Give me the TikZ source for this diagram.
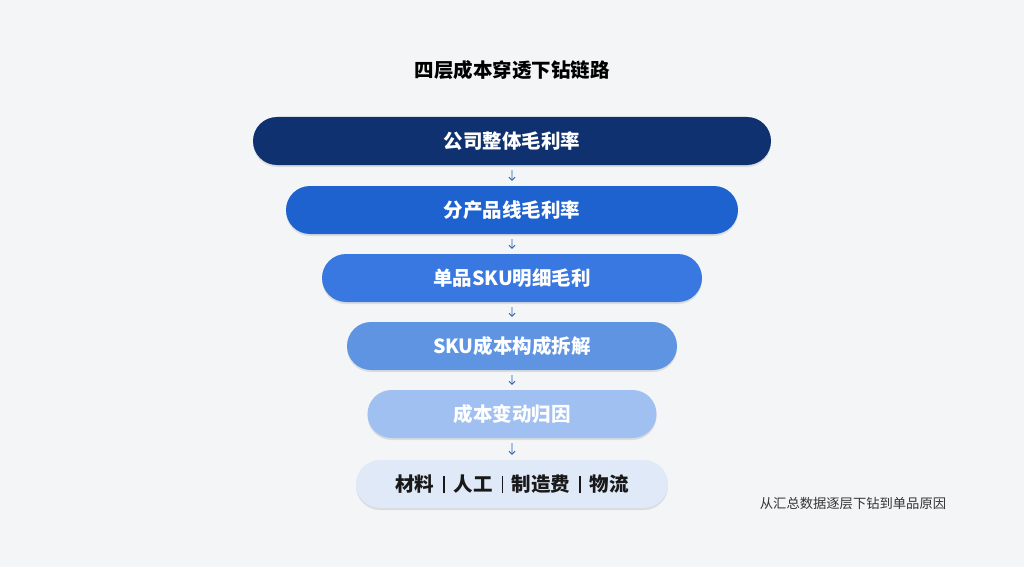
\documentclass[tikz,border=0pt]{standalone}
\usepackage{fontspec}
\setmainfont{Noto Sans CJK SC}
\newfontfamily\cjk{Noto Sans CJK SC}
\usetikzlibrary{arrows.meta,shapes.misc,shadows}
\definecolor{bgc}{HTML}{F3F5F7}
\definecolor{c1}{HTML}{0F3170}
\definecolor{c2}{HTML}{1E62CF}
\definecolor{c3}{HTML}{3878E0}
\definecolor{c4}{HTML}{5E94E2}
\definecolor{c5}{HTML}{A0C0F1}
\definecolor{c6}{HTML}{DFE9F8}
\definecolor{arr}{HTML}{2A5CB8}
\newcommand{\sepbar}{\hspace{9pt}\raisebox{-2pt}{\rule{1.3pt}{17pt}}\hspace{9pt}}
\tikzset{
  x=1pt,y=-1pt,
  pill/.style={rounded rectangle, minimum height=48pt, text=white, font=\cjk\bfseries\fontsize{19.5}{22}\selectfont, inner sep=0pt, drop shadow={shadow xshift=0pt, shadow yshift=-2pt, opacity=0.10, fill=black}},
  link/.style={-{Straight Barb[length=3pt,width=6pt]}, arr, line width=0.8pt, shorten <=5pt, shorten >=5pt}
}
\begin{document}
\begin{tikzpicture}
\fill[bgc] (0,0) rectangle (1024,567);
\useasboundingbox (0,0) rectangle (1024,567);
\node[font=\cjk\bfseries\fontsize{19.5}{22}\selectfont, text=black] (title) at (512,70) {四层成本穿透下钻链路};
\node[pill, fill=c1, minimum width=518pt] (b1) at (512,141) {公司整体毛利率};
\node[pill, fill=c2, minimum width=452pt] (b2) at (512,210) {分产品线毛利率};
\node[pill, fill=c3, minimum width=380pt] (b3) at (512,278) {单品SKU明细毛利};
\node[pill, fill=c4, minimum width=330pt] (b4) at (512,346) {SKU成本构成拆解};
\node[pill, fill=c5, minimum width=289pt] (b5) at (512,414) {成本变动归因};
\node[pill, fill=c6, minimum width=312pt, text=black!90] (b6) at (512,484) {材料\sepbar 人工\sepbar 制造费\sepbar 物流};
\draw[link] (b1) -- (b2);
\draw[link] (b2) -- (b3);
\draw[link] (b3) -- (b4);
\draw[link] (b4) -- (b5);
\draw[link] (b5) -- (b6);
\node[font=\cjk\fontsize{13.3}{15}\selectfont, text=black!80] (note) at (853,503) {从汇总数据逐层下钻到单品原因};
\end{tikzpicture}
\end{document}
